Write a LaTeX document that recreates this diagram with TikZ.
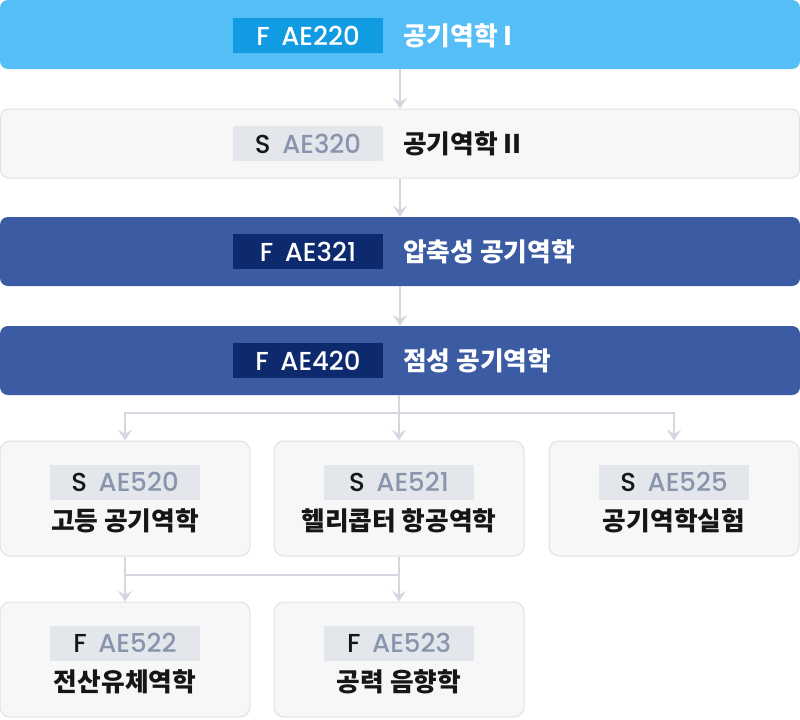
\documentclass[tikz,border=0pt]{standalone}
\usepackage{fontspec}
\setmainfont{Noto Sans CJK KR}
\newfontfamily\tagfont{Poppins}[UprightFont=* Medium]
\usetikzlibrary{positioning}
\usetikzlibrary{calc}
\usetikzlibrary{arrows.meta}

\definecolor{skyfill}{HTML}{56BEF6}
\definecolor{skytag}{HTML}{119BE3}
\definecolor{navyfill}{HTML}{3B5CA3}
\definecolor{navytag}{HTML}{0C2A6D}
\definecolor{greyfill}{HTML}{F7F7F7}
\definecolor{greyline}{HTML}{E1E1E1}
\definecolor{greytag}{HTML}{E3E7EC}
\definecolor{ink}{HTML}{161616}
\definecolor{codegrey}{HTML}{8A94AD}
\definecolor{linkgrey}{HTML}{D3D7E0}

\newcommand{\semcode}[2]{{\color{ink}#1}\hspace{0.45em}{\color{codegrey}#2}}

\tikzset{
  wide/.style={rectangle, rounded corners=6pt, minimum width=600pt, minimum height=51.75pt, inner sep=0pt},
  lightbox/.style={wide, fill=skyfill},
  greybox/.style={wide, fill=greyfill, draw=greyline, line width=0.75pt, minimum width=599pt},
  navybox/.style={wide, fill=navyfill},
  card/.style={rectangle, rounded corners=7.5pt, minimum width=187.5pt, minimum height=86.25pt, fill=greyfill, draw=greyline, line width=0.75pt},
  tag/.style={rectangle, minimum width=112.5pt, minimum height=26.25pt, inner sep=0pt, font=\tagfont\fontsize{19.5}{19.5}\selectfont},
  greytagbox/.style={tag, fill=greytag},
  title/.style={anchor=west, inner sep=0pt, font=\bfseries\fontsize{19.3}{19.3}\selectfont},
  cardtitle/.style={inner sep=0pt, text=ink, font=\bfseries\fontsize{19.3}{19.3}\selectfont},
  link/.style={draw=linkgrey, line width=1.5pt},
  arr/.style={link, -{Stealth[length=8pt,width=10.5pt,inset=3pt]}}
}

\begin{document}
\begin{tikzpicture}[x=0.75pt,y=-0.75pt]
\useasboundingbox (0,0) rectangle (800,719);

% main chain
\node[lightbox](k220) at (400,34.5){};
\node[tag, fill=skytag, text=white](k220tag) at (308,35.5){F\hspace{0.45em}AE220};
\node[title, text=white](k220name) at (403,35.5){공기역학 I};

\node[greybox](k320) at (400,143.5){};
\node[greytagbox](k320tag) at (308,143.5){\semcode{S}{AE320}};
\node[title, text=ink](k320name) at (403,143.5){공기역학 II};

\node[navybox](k321) at (400,251.5){};
\node[tag, fill=navytag, text=white](k321tag) at (308,251.5){F\hspace{0.45em}AE321};
\node[title, text=white](k321name) at (403,251.5){압축성 공기역학};

\node[navybox](k420) at (400,360.5){};
\node[tag, fill=navytag, text=white](k420tag) at (308,360.5){F\hspace{0.45em}AE420};
\node[title, text=white](k420name) at (403,360.5){점성 공기역학};

% electives
\node[card](k520) at (125,498.5){};
\node[greytagbox](k520tag) at (125,482){\semcode{S}{AE520}};
\node[cardtitle](k520name) at (125,521){고등 공기역학};

\node[card](k521) at (399,498.5){};
\node[greytagbox](k521tag) at (399,482){\semcode{S}{AE521}};
\node[cardtitle](k521name) at (399,521){헬리콥터 항공역학};

\node[card](k525) at (674,498.5){};
\node[greytagbox](k525tag) at (674,482){\semcode{S}{AE525}};
\node[cardtitle](k525name) at (674,521){공기역학실험};

\node[card](k522) at (125,659.5){};
\node[greytagbox](k522tag) at (125,643){\semcode{F}{AE522}};
\node[cardtitle](k522name) at (125,682){전산유체역학};

\node[card](k523) at (399,659.5){};
\node[greytagbox](k523tag) at (399,643){\semcode{F}{AE523}};
\node[cardtitle](k523name) at (399,682){공력 음향학};

\coordinate (fork) at (399,413);
\coordinate (join) at (125,575);

\path
(k220) edge[arr] (k320)
(k320) edge[arr] (k321)
(k321) edge[arr] (k420);

\draw[link] (k420.south -| fork) -- (fork);
\draw[arr] (fork) -| (k520.north);
\draw[arr] (fork) -- (k521.north);
\draw[arr] (fork) -| (k525.north);

\draw[arr] (k520) -- (k522);
\draw[arr] (k521) -- (k523);
\draw[link] (join) -- (join -| k521);
\end{tikzpicture}
\end{document}
